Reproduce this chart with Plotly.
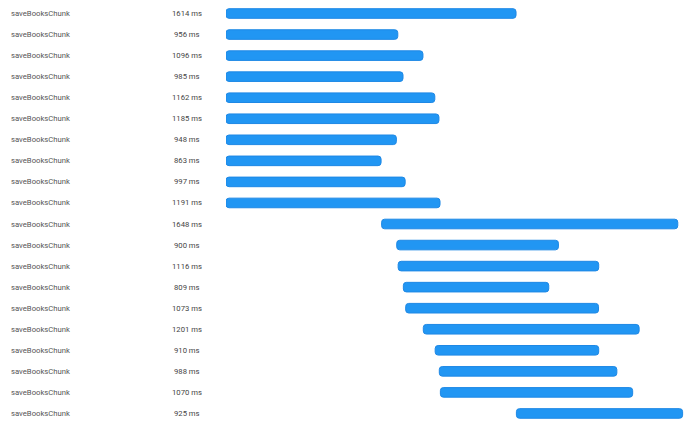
import plotly.graph_objects as go

labels = ["saveBooksChunk"] * 20
durations = [1614, 956, 1096, 985, 1162, 1185, 948, 863, 997, 1191,
             1648, 900, 1116, 809, 1073, 1201, 910, 988, 1070, 925]
starts = [0, 0, 0, 0, 0, 0, 0, 0, 0, 0,
          866, 950, 958, 987, 1000, 1098, 1164, 1187, 1193, 1616]

# page body has an 8px margin; figure is placed at (8, 8) in the window
OFF = 8
W, H = 700 - OFF, 425 - OFF
x0_px = 226 - OFF
px_per_ms = 0.1797
row_px = 21.05
first_row_px = 13.5 - OFF

rows = list(range(len(durations)))

fig = go.Figure(go.Bar(
    y=rows,
    x=durations,
    base=starts,
    orientation="h",
    width=9.6 / row_px,
    marker=dict(color="#2196F3", line=dict(color="#1E88E5", width=1)),
    hoverinfo="skip",
))

annotations = []
for i, (lab, d) in enumerate(zip(labels, durations)):
    annotations.append(dict(
        x=(9 - OFF) / W, xref="paper", xanchor="left",
        y=i, yref="y", yanchor="middle",
        text=lab, showarrow=False,
        font=dict(family="Roboto", size=7.7, color="#555555"),
    ))
    annotations.append(dict(
        x=(187.3 - OFF) / W, xref="paper", xanchor="center",
        y=i, yref="y", yanchor="middle",
        text=f"{d} ms", showarrow=False,
        font=dict(family="Roboto", size=7.7, color="#444444"),
    ))

fig.update_layout(
    width=W, height=H,
    margin=dict(l=0, r=0, t=0, b=0),
    paper_bgcolor="white", plot_bgcolor="white",
    showlegend=False,
    barcornerradius=3,
    annotations=annotations,
    xaxis=dict(
        domain=[x0_px / W, 1],
        range=[0, (W - x0_px) / px_per_ms],
        showgrid=False, zeroline=False, showticklabels=False, showline=False,
        fixedrange=True,
    ),
    yaxis=dict(
        range=[(H - first_row_px) / row_px, -first_row_px / row_px],
        showgrid=False, zeroline=False, showticklabels=False, showline=False,
        fixedrange=True,
    ),
)

fig.write_html("out.html", config={"displayModeBar": False})
